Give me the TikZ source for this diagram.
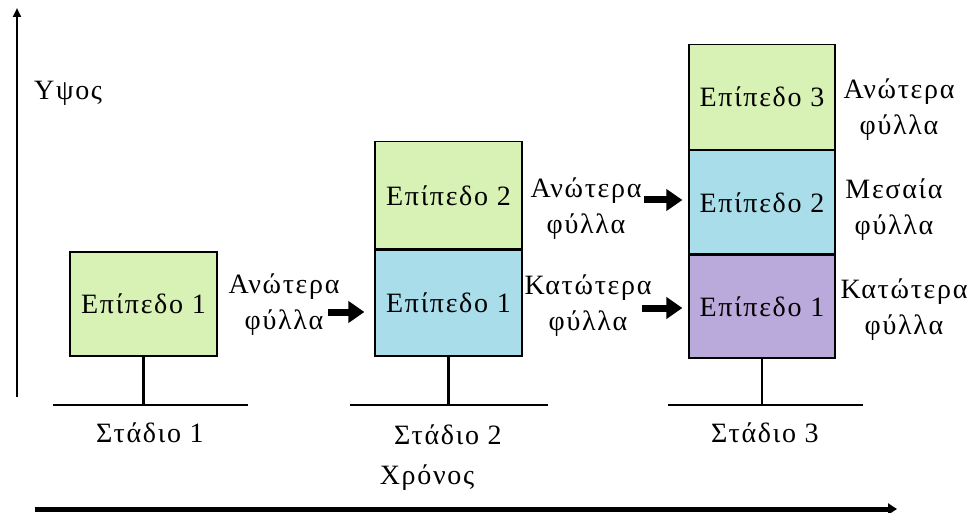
\documentclass[tikz,border=0pt]{standalone}
\usepackage{fontspec}
\setmainfont{Liberation Serif}[LetterSpace=6]
\usetikzlibrary{arrows.meta}
\definecolor{leafgreen}{HTML}{D8F1B5}
\definecolor{leafblue}{HTML}{A9DDEA}
\definecolor{leafpurple}{HTML}{BAA9DB}
\begin{document}
\begin{tikzpicture}[x=1pt,y=-1pt,
    level/.style={draw,line width=1.2pt,minimum width=147pt,inner sep=0pt,font=\fontsize{28}{30}\selectfont},
    lbl/.style={align=center,inner sep=0pt,font=\fontsize{28}{36}\selectfont},
    push/.style={line width=7pt,-{Triangle[length=16pt,width=21pt]}},
    stem/.style={line width=2.5pt},
    ground/.style={line width=1.3pt}]
  \useasboundingbox (0,0) rectangle (972,513);
  % axes
  \coordinate (h0) at (17,397);
  \coordinate (h1) at (17,8);
  \coordinate (t0) at (35,509);
  \coordinate (t1) at (897,509);
  \draw[line width=2.5pt,-{Triangle[length=9pt,width=8pt]}] (h0) -- (h1);
  \draw[line width=5pt,-{Triangle[length=9pt,width=11pt]}] (t0) -- (t1);
  \node[lbl,anchor=west] (height) at (34,93) {Υψος};
  \node[lbl] (time) at (427,478) {Χρόνος};
  % stage 1
  \node[level,fill=leafgreen,minimum height=104pt] (a1) at (143.5,304) {Επίπεδο 1};
  % stage 2
  \node[level,fill=leafblue,minimum height=106pt] (b1) at (448.5,303) {Επίπεδο 1};
  \node[level,fill=leafgreen,minimum height=107pt,anchor=south] (b2) at (b1.north) {Επίπεδο 2};
  % stage 3
  \node[level,fill=leafpurple,minimum width=146pt,minimum height=103pt] (c1) at (762,306.5) {Επίπεδο 1};
  \node[level,fill=leafblue,minimum width=146pt,minimum height=103pt,anchor=south] (c2) at (c1.north) {Επίπεδο 2};
  \node[level,fill=leafgreen,minimum width=146pt,minimum height=105pt,anchor=south] (c3) at (c2.north) {Επίπεδο 3};
  % stems and ground lines
  \coordinate (g1) at (143.5,405);
  \coordinate (g2) at (448.5,405);
  \coordinate (g3) at (762,405);
  \draw[stem] (a1.south) -- (g1);
  \draw[stem] (b1.south) -- (g2);
  \draw[stem] (c1.south) -- (g3);
  \draw[ground] (53,405) -- (248,405);
  \draw[ground] (350,405) -- (548,405);
  \draw[ground] (668,405) -- (863,405);
  \node[lbl] (s1) at (150,433) {Στάδιο 1};
  \node[lbl] (s2) at (448,435) {Στάδιο 2};
  \node[lbl] (s3) at (765,433) {Στάδιο 3};
  % leaf labels
  \node[lbl] (u1) at (284,305) {Ανώτερα\\φύλλα};
  \node[lbl] (u2) at (586,209) {Ανώτερα\\φύλλα};
  \node[lbl] (d2) at (588,306) {Κατώτερα\\φύλλα};
  \node[lbl] (u3) at (899,110) {Ανώτερα\\φύλλα};
  \node[lbl] (m3) at (894,210) {Μεσαία\\φύλλα};
  \node[lbl] (d3) at (904,310) {Κατώτερα\\φύλλα};
  % arrows
  \coordinate (p1) at (328,312);
  \coordinate (p2) at (644,200);
  \coordinate (p3) at (642,308);
  \draw[push,shorten >=10pt] (p1) -- (b1.west |- p1);
  \draw[push,shorten >=6pt] (p2) -- (c2.west |- p2);
  \draw[push,shorten >=6pt] (p3) -- (c1.west |- p3);
\end{tikzpicture}
\end{document}
